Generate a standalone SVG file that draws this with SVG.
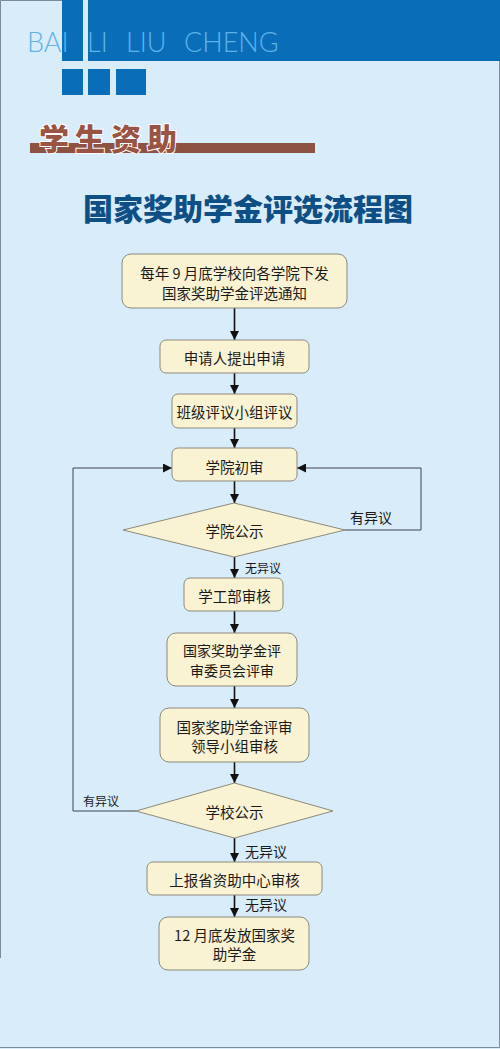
<svg xmlns="http://www.w3.org/2000/svg" width="500" height="1049" viewBox="0 0 500 1049">
<defs>
<marker id="ah" viewBox="0 0 10 10" refX="10" refY="5" markerWidth="9" markerHeight="9" markerUnits="userSpaceOnUse" orient="auto">
<path d="M0,0 L10,5 L0,10 z" fill="#111"/>
</marker>
<style>
.node{fill:#FAF3D3;stroke:#8C8A78;stroke-width:1}
.t{font-family:"Noto Sans CJK SC","Liberation Sans",sans-serif;font-size:14.5px;fill:#1a1a1a;text-anchor:middle;dominant-baseline:central}
.lbl{font-family:"Noto Sans CJK SC","Liberation Sans",sans-serif;fill:#1a1a1a;dominant-baseline:central}
.ln{fill:none;stroke:#111;stroke-width:1.6}
.fb{fill:none;stroke:#3a444e;stroke-width:1}
</style>
</defs>
<rect x="0" y="0" width="500" height="1049" fill="#D8ECFA"/>
<path d="M0.5,958 V0.5 H62" fill="none" stroke="#7a8a9a" stroke-width="1"/>
<path d="M499.5,0 V1047.5 H0" fill="none" stroke="#7a8a9a" stroke-width="1"/>
<g id="header">
<rect x="62" y="0" width="21" height="61" fill="#0A6DB8"/>
<rect x="88" y="0" width="412" height="61" fill="#0A6DB8"/>
<rect x="62" y="69" width="21" height="26" fill="#0A6DB8"/>
<rect x="88" y="69" width="22" height="26" fill="#0A6DB8"/>
<rect x="116" y="69" width="30" height="26" fill="#0A6DB8"/>
<text y="52" font-family="Lato,'Liberation Sans',sans-serif" font-size="27" font-weight="300" fill="#5EB3E8"><tspan x="27">BAI</tspan><tspan x="87">LI</tspan><tspan x="126">LIU</tspan><tspan x="184">CHENG</tspan></text>
<rect x="30" y="143" width="285" height="10" fill="#8E5242"/>
<text x="39" y="150" font-family="'Noto Sans CJK SC',sans-serif" font-size="30" font-weight="900" fill="#9A5443" stroke="#ffffff" stroke-width="2" paint-order="stroke" letter-spacing="6">学生资助</text>
<text x="248" y="220" text-anchor="middle" font-family="'Noto Sans CJK SC',sans-serif" font-size="30" font-weight="900" fill="#0E4F86">国家奖助学金评选流程图</text>
</g>
<g id="connectors">
<line class="ln" x1="234.5" y1="308" x2="234.5" y2="340" marker-end="url(#ah)"/>
<line class="ln" x1="234.5" y1="373" x2="234.5" y2="394" marker-end="url(#ah)"/>
<line class="ln" x1="234.5" y1="428" x2="234.5" y2="448" marker-end="url(#ah)"/>
<line class="ln" x1="234.5" y1="481" x2="234.5" y2="503" marker-end="url(#ah)"/>
<line class="ln" x1="234.5" y1="557" x2="234.5" y2="578" marker-end="url(#ah)"/>
<line class="ln" x1="234.5" y1="611" x2="234.5" y2="633" marker-end="url(#ah)"/>
<line class="ln" x1="234.5" y1="686" x2="234.5" y2="708" marker-end="url(#ah)"/>
<line class="ln" x1="234.5" y1="762" x2="234.5" y2="783" marker-end="url(#ah)"/>
<line class="ln" x1="234.5" y1="838" x2="234.5" y2="862" marker-end="url(#ah)"/>
<line class="ln" x1="234.5" y1="895" x2="234.5" y2="917" marker-end="url(#ah)"/>
<path class="fb" d="M345,530 H421 V468 H297" marker-end="url(#ah)"/>
<path class="fb" d="M136,811 H73 V468 H172" marker-end="url(#ah)"/>
<text class="lbl" x="350" y="517" font-size="14">有异议</text>
<text class="lbl" x="245" y="567" font-size="12">无异议</text>
<text class="lbl" x="83" y="800" font-size="12">有异议</text>
<text class="lbl" x="245" y="851" font-size="14">无异议</text>
<text class="lbl" x="245" y="904" font-size="14">无异议</text>
</g>
<g id="n1"><rect class="node" x="122" y="254" width="225" height="54" rx="9"/><text class="t" x="234.5" y="272">每年 9 月底学校向各学院下发</text><text class="t" x="234.5" y="292">国家奖助学金评选通知</text></g>
<g id="n2"><rect class="node" x="160" y="340" width="149" height="33" rx="6"/><text class="t" x="234.5" y="357">申请人提出申请</text></g>
<g id="n3"><rect class="node" x="172" y="394" width="125" height="34" rx="6"/><text class="t" x="234.5" y="411">班级评议小组评议</text></g>
<g id="n4"><rect class="node" x="172" y="448" width="125" height="33" rx="6"/><text class="t" x="234.5" y="466">学院初审</text></g>
<g id="d1"><polygon class="node" points="234,503 345,530 234,557 123,530"/><text class="t" x="234.5" y="530">学院公示</text></g>
<g id="n5"><rect class="node" x="184" y="578" width="99" height="33" rx="6"/><text class="t" x="234.5" y="595">学工部审核</text></g>
<g id="n6"><rect class="node" x="167" y="633" width="130" height="53" rx="9"/><text class="t" x="232" y="650" style="font-size:14px">国家奖助学金评</text><text class="t" x="232" y="669.5" style="font-size:14px">审委员会评审</text></g>
<g id="n7"><rect class="node" x="160" y="708" width="149" height="54" rx="9"/><text class="t" x="234.5" y="726">国家奖助学金评审</text><text class="t" x="234.5" y="745">领导小组审核</text></g>
<g id="d2"><polygon class="node" points="234.5,783 333,811 234.5,838 136,811"/><text class="t" x="234.5" y="811">学校公示</text></g>
<g id="n8"><rect class="node" x="147" y="862" width="175" height="33" rx="6"/><text class="t" x="234.5" y="879">上报省资助中心审核</text></g>
<g id="n9"><rect class="node" x="159" y="917" width="150" height="53" rx="9"/><text class="t" x="234.5" y="934">12 月底发放国家奖</text><text class="t" x="234.5" y="953">助学金</text></g>
</svg>
